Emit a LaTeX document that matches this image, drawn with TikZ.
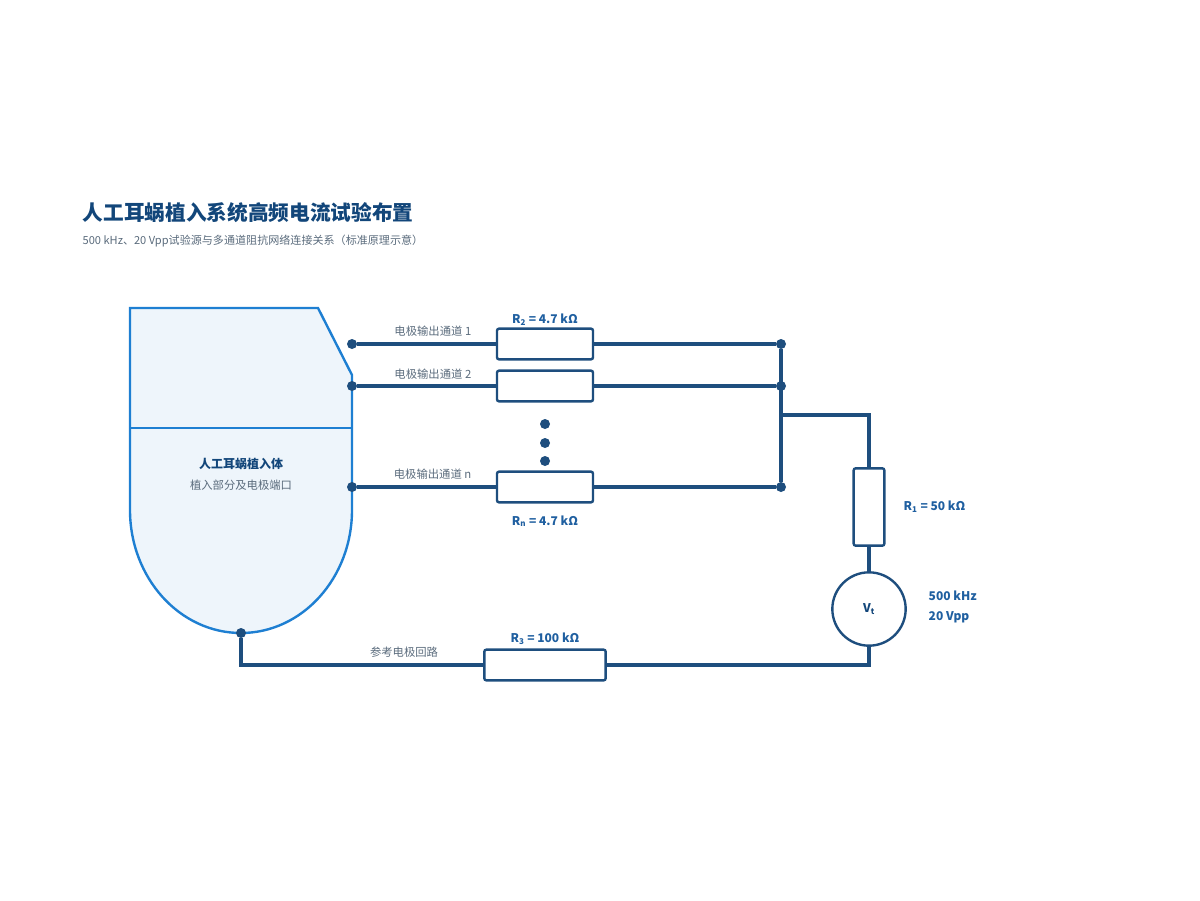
\documentclass[tikz,border=0pt]{standalone}
\usepackage{fontspec}
\setmainfont{Noto Sans CJK SC}
\begin{document}
\begin{tikzpicture}[x=0.75pt,y=-0.75pt,
  wire/.style={draw=wireC,line width=2.5pt},
  res/.style={draw=wireC,line width=1.8pt,fill=white,rounded corners=1.5pt,minimum width=72pt,minimum height=23pt,inner sep=0},
  dot/.style={circle,fill=wireC,inner sep=0,minimum size=7.5pt},
  lab/.style={font=\fontsize{8.5pt}{10pt}\selectfont,text=grayC},
  val/.style={font=\bfseries\fontsize{9pt}{11pt}\selectfont,text=valC}]
\definecolor{wireC}{HTML}{1E4E7E}
\definecolor{grayC}{HTML}{5A6B7C}
\definecolor{valC}{HTML}{1F5FA0}
\definecolor{titleC}{HTML}{12467A}
\definecolor{implC}{HTML}{1E7FD2}
\definecolor{fillC}{HTML}{EEF5FB}
\useasboundingbox (0,0) rectangle (1200,900);
\node[anchor=west,font=\bfseries\fontsize{15.5pt}{18pt}\selectfont,text=titleC] (title) at (78,213) {人工耳蜗植入系统高频电流试验布置};
\node[anchor=west,font=\fontsize{8.3pt}{10pt}\selectfont,text=grayC] (sub) at (78,241) {500 kHz、20 Vpp试验源与多通道阻抗网络连接关系（标准原理示意）};
% implant
\draw[draw=implC,fill=fillC,line width=1.8pt] (130,308) -- (318,308) -- (352,375) -- (352,510) arc[start angle=0,end angle=180,x radius=111,y radius=123] -- cycle;
\draw[draw=implC,line width=1.8pt] (130,428) -- (352,428);
\node[font=\bfseries\fontsize{9pt}{11pt}\selectfont,text=titleC] (impl) at (241,464) {人工耳蜗植入体};
\node[lab] (implsub) at (241,485) {植入部分及电极端口};
% nodes
\node[dot] (e1) at (352,344) {};
\node[dot] (e2) at (352,386) {};
\node[dot] (en) at (352,487) {};
\node[dot] (b1) at (781,344) {};
\node[dot] (b2) at (781,386) {};
\node[dot] (bn) at (781,487) {};
\node[dot] (gnd) at (241,633) {};
\node[res] (r2) at (545,344) {};
\node[res] (r2b) at (545,386) {};
\node[res] (rn) at (545,487) {};
\node[res,minimum width=23pt,minimum height=58pt] (r1) at (869,507) {};
\node[res,minimum width=91pt] (r3) at (545,665) {};
\node[circle,draw=wireC,line width=1.8pt,minimum size=55pt,inner sep=0,font=\bfseries\fontsize{9pt}{11pt}\selectfont,text=titleC] (vt) at (869,609) {V\textsubscript{t}};
\coordinate (j) at (781,415);
\coordinate (jr) at (869,415);
\coordinate (c1) at (869,665);
\coordinate (c2) at (241,665);
\draw[wire] (e1)--(r2) (r2)--(b1);
\draw[wire] (e2)--(r2b) (r2b)--(b2);
\draw[wire] (en)--(rn) (rn)--(bn);
\draw[wire] (b1)--(bn);
\draw[wire] (j)--(jr)--(r1.north);
\draw[wire] (r1.south)--(vt.north);
\draw[wire] (vt.south)--(c1)--(r3.east);
\draw[wire] (r3.west)--(c2)--(gnd);
\node[dot] (d1) at (545,424) {};
\node[dot] (d2) at (545,443) {};
\node[dot] (d3) at (545,461) {};
% labels
\node[lab,anchor=east] (l1) at (476,331) {电极输出通道 1};
\node[lab,anchor=east] (l2) at (476,374) {电极输出通道 2};
\node[lab,anchor=east] (ln) at (476,474) {电极输出通道 n};
\node[lab] (lr) at (404,652) {参考电极回路};
\node[val] (v2) at (545,320) {R\textsubscript{2} = 4.7 kΩ};
\node[val] (vn) at (545,521) {R\textsubscript{n} = 4.7 kΩ};
\node[val] (v3) at (545,639) {R\textsubscript{3} = 100 kΩ};
\node[val,anchor=west] (v1) at (899,507) {R\textsubscript{1} = 50 kΩ};
\node[val,anchor=west] (vf) at (924,596) {500 kHz};
\node[val,anchor=west] (vv) at (924,617) {20 Vpp};
\end{tikzpicture}
\end{document}
